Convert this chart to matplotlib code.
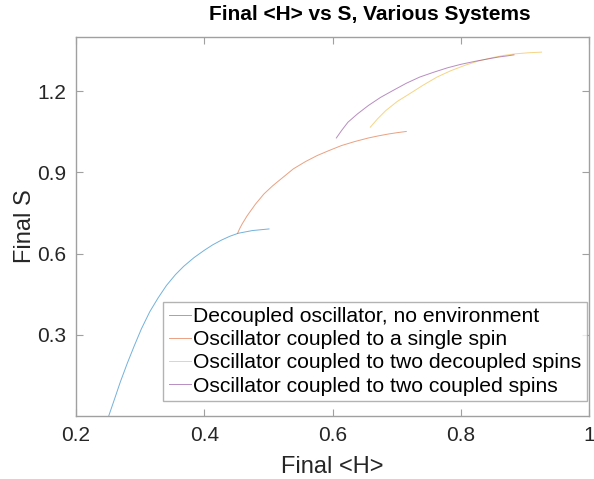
import matplotlib
matplotlib.use("Agg")
import matplotlib.pyplot as plt

plt.rcParams['font.family'] = ['Liberation Sans', 'DejaVu Sans']

# Data
h_decoupled = [0.251, 0.260, 0.269, 0.280, 0.291, 0.302, 0.315, 0.328, 0.341, 0.355,
               0.368, 0.384, 0.400, 0.413, 0.427, 0.440, 0.453, 0.475, 0.488, 0.501]
s_decoupled = [0.000, 0.062, 0.125, 0.195, 0.260, 0.322, 0.385, 0.436, 0.482, 0.522,
               0.553, 0.585, 0.612, 0.632, 0.650, 0.664, 0.675, 0.685, 0.688, 0.691]

h_single = [0.452, 0.455, 0.459, 0.467, 0.480, 0.493, 0.507, 0.523, 0.539, 0.558,
            0.576, 0.595, 0.614, 0.635, 0.656, 0.672, 0.688, 0.702, 0.715]
s_single = [0.675, 0.691, 0.709, 0.740, 0.783, 0.820, 0.851, 0.882, 0.913, 0.940,
            0.962, 0.981, 0.999, 1.014, 1.027, 1.035, 1.042, 1.047, 1.051]

h_two_dec = [0.659, 0.670, 0.683, 0.701, 0.720, 0.742, 0.763, 0.784, 0.806, 0.827,
             0.848, 0.867, 0.886, 0.907, 0.926]
s_two_dec = [1.067, 1.097, 1.128, 1.162, 1.190, 1.223, 1.252, 1.275, 1.295, 1.311,
             1.323, 1.332, 1.338, 1.342, 1.344]

h_two_cpl = [0.606, 0.614, 0.624, 0.639, 0.656, 0.675, 0.694, 0.715, 0.736, 0.758,
             0.779, 0.800, 0.822, 0.840, 0.859, 0.872, 0.883]
s_two_cpl = [1.027, 1.054, 1.085, 1.116, 1.147, 1.177, 1.202, 1.229, 1.252, 1.270,
             1.286, 1.299, 1.310, 1.318, 1.326, 1.330, 1.334]

labels = ["Decoupled oscillator, no environment",
          "Oscillator coupled to a single spin",
          "Oscillator coupled to two decoupled spins",
          "Oscillator coupled to two coupled spins"]
xticks = [0.2, 0.4, 0.6, 0.8, 1.0]
xticklabels = ["0.2", "0.4", "0.6", "0.8", "1"]
yticks = [0.3, 0.6, 0.9, 1.2]
yticklabels = ["0.3", "0.6", "0.9", "1.2"]

colors = [(0.0, 0.447, 0.741), (0.85, 0.325, 0.098),
          (0.929, 0.694, 0.125), (0.494, 0.184, 0.556)]

fig = plt.figure(figsize=(5.94, 4.79), dpi=100)
ax = fig.add_axes([76/594, 1 - 416/479, (589-76)/594, (416-37)/479])

series = [(h_decoupled, s_decoupled), (h_single, s_single),
          (h_two_dec, s_two_dec), (h_two_cpl, s_two_cpl)]
for (hx, sy), c, lab in zip(series, colors, labels):
    ax.plot(hx, sy, color=c, lw=0.7, alpha=0.55, label=lab)

ax.set_xlim(0.2, 1.0)
ax.set_ylim(0.0, 1.4)
ax.set_xticks(xticks)
ax.set_xticklabels(xticklabels)
ax.set_yticks(yticks)
ax.set_yticklabels(yticklabels)

for sp in ax.spines.values():
    sp.set_color('#a0a0a0')
    sp.set_linewidth(1.0)
ax.tick_params(direction='in', length=5, width=0.8, color='#a0a0a0',
               top=True, right=True, labelsize=15, labelcolor='#262626', pad=7)

ax.set_xlabel("Final <H>", fontsize=17, color='#262626', labelpad=8)
ax.set_ylabel("Final S", fontsize=17, color='#262626', labelpad=1)
ax.set_title("Final <H> vs S, Various Systems", fontsize=15, fontweight='bold',
             x=0.573, pad=12)

leg = ax.legend(loc='lower right', bbox_to_anchor=(0.996, 0.040), fontsize=15.2,
                frameon=True, fancybox=False, edgecolor='#a0a0a0',
                handlelength=1.05, handletextpad=0.12, labelspacing=0.2,
                borderpad=0.25, borderaxespad=0.0)
leg.get_frame().set_linewidth(1.0)
for t in leg.get_texts():
    t.set_color('#000000')

fig.savefig("out.png", dpi=100)
